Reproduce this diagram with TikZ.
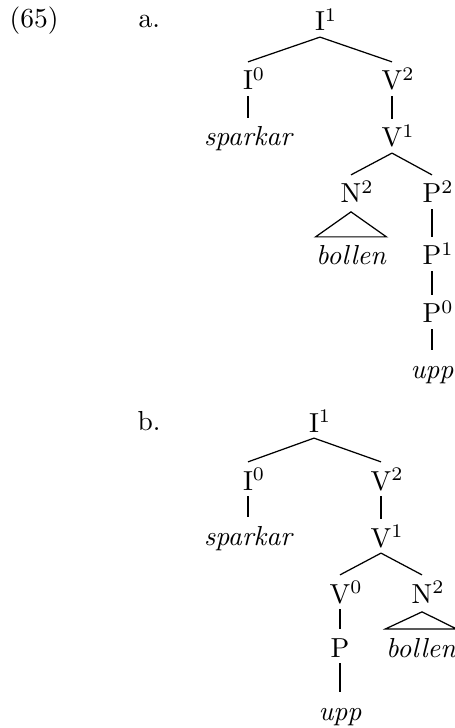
\documentclass[tikz,border=0pt]{standalone}
\usetikzlibrary{positioning}
\newcommand\cat[2]{#1\rlap{$^{#2}$}}

\begin{document}
\begin{tikzpicture}[x=0.3636pt, y=-0.3636pt,
                lab/.style={anchor=base, inner xsep=1pt, inner ysep=2pt,
                            text height=8pt, text depth=0pt},
                word/.style={lab, inner xsep=0pt, font=\itshape},
                num/.style={anchor=base west, inner sep=0pt},
                every path/.style={line width=0.45pt},
            ]
                \useasboundingbox (0,0) rectangle (454,728);

                % Example number
                \node[num] (ex) at (9, 28) {(65)};

                % Tree a
                \node[num] (la) at (138, 28) {a.};
                \node[lab] (a-i1) at (320, 31) {\cat{I}{1}};
                \node[lab] (a-i0) at (248, 90) {\cat{I}{0}};
                \node[lab] (a-v2) at (392, 90) {\cat{V}{2}};
                \node[word] (a-sp) at (248, 146) {sparkar};
                \node[lab] (a-v1) at (392, 147) {\cat{V}{1}};
                \node[lab] (a-n2) at (351, 203) {\cat{N}{2}};
                \node[lab] (a-p2) at (432, 203) {\cat{P}{2}};
                \node[word] (a-bo) at (351, 265) {bollen};
                \node[lab] (a-p1) at (432, 265) {\cat{P}{1}};
                \node[lab] (a-p0) at (432, 323) {\cat{P}{0}};
                \node[word] (a-up) at (432, 378) {upp};
                \foreach \p/\c in {i1/i0, i1/v2, i0/sp, v2/v1, v1/n2, v1/p2, p2/p1, p1/p0, p0/up} {
                    \draw (a-\p.south) -- (a-\c.north);
                }
                \draw ([yshift=-1pt]a-n2.south) -- (a-bo.north west) -- (a-bo.north east) -- cycle;

                % Tree b
                \node[num] (lb) at (137, 430) {b.};
                \node[lab] (b-i1) at (314, 432) {\cat{I}{1}};
                \node[lab] (b-i0) at (248, 490) {\cat{I}{0}};
                \node[lab] (b-v2) at (381, 490) {\cat{V}{2}};
                \node[word] (b-sp) at (248, 545) {sparkar};
                \node[lab] (b-v1) at (381, 547) {\cat{V}{1}};
                \node[lab] (b-v0) at (340, 603) {\cat{V}{0}};
                \node[lab] (b-n2) at (422, 603) {\cat{N}{2}};
                \node[lab] (b-p) at (340, 657) {P};
                \node[word] (b-bo) at (421, 657) {bollen};
                \node[word] (b-up) at (340, 720) {upp};
                \foreach \p/\c in {i1/i0, i1/v2, i0/sp, v2/v1, v1/v0, v1/n2, v0/p, p/up} {
                    \draw (b-\p.south) -- (b-\c.north);
                }
                \draw ([yshift=-1pt]b-n2.south) -- (b-bo.north west) -- (b-bo.north east) -- cycle;
            \end{tikzpicture}
\end{document}
